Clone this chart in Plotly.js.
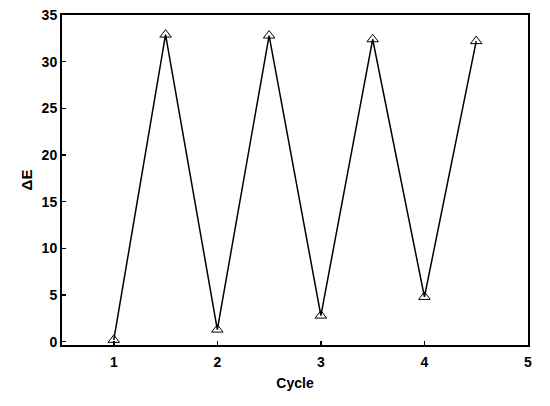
<!DOCTYPE html>
<html>
<head>
<meta charset="utf-8">
<script src="https://cdn.plot.ly/plotly-3.0.1.min.js"></script>
<style>
  html, body { margin: 0; padding: 0; background: white; }
  #chart { width: 550px; height: 406px; }
</style>
</head>
<body>
<div id="chart"></div>
<script>
// cycle positions and colour difference readings
var cycle = [1, 1.5, 2, 2.5, 3, 3.5, 4, 4.5];
var deltaE = [0.2, 32.9, 1.3, 32.8, 2.8, 32.4, 4.8, 32.2];
var xTicks = [1, 2, 3, 4, 5];
var yTicks = [0, 5, 10, 15, 20, 25, 30, 35];

var trace = {
  x: cycle,
  y: deltaE,
  mode: 'lines+markers',
  line: {color: '#000', width: 1.5},
  marker: {symbol: 'triangle-up-open', size: 10, color: '#000', line: {width: 1}},
  hoverinfo: 'skip'
};

var axisFont = {family: 'Liberation Sans, Arial, sans-serif', size: 14, color: '#000', weight: 'bold'};

var layout = {
  width: 550,
  height: 406,
  margin: {l: 62, r: 22, t: 15, b: 61},
  paper_bgcolor: 'white',
  plot_bgcolor: 'white',
  showlegend: false,
  font: axisFont,
  xaxis: {
    range: [0.5, 5],
    tickvals: xTicks,
    ticks: 'inside',
    ticklen: 4,
    tickwidth: 1.5,
    tickcolor: '#000',
    showline: true,
    linecolor: '#000',
    linewidth: 2,
    mirror: true,
    showgrid: false,
    zeroline: false,
    tickfont: axisFont,
    ticklabelstandoff: 3,
    title: {text: 'Cycle', font: axisFont, standoff: 9}
  },
  yaxis: {
    range: [-0.35, 35],
    tickvals: yTicks,
    ticks: 'inside',
    ticklen: 4,
    tickwidth: 1.5,
    tickcolor: '#000',
    showline: true,
    linecolor: '#000',
    linewidth: 2,
    mirror: true,
    showgrid: false,
    zeroline: false,
    tickfont: axisFont,
    title: {text: 'ΔE', font: {family: axisFont.family, size: 15, color: '#000', weight: 'bold'}, standoff: 5}
  }
};

Plotly.newPlot('chart', [trace], layout, {displayModeBar: false, staticPlot: true});
</script>
</body>
</html>
